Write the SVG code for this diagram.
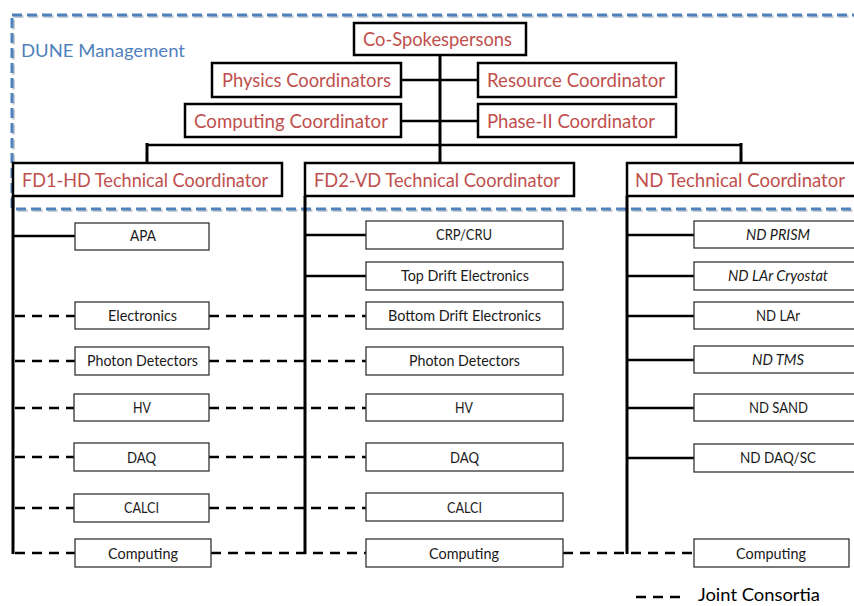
<svg xmlns="http://www.w3.org/2000/svg" width="854" height="606" viewBox="0 0 854 606">
<defs>
<style>
.frame{fill:none;stroke:#4f81bd;stroke-width:3;stroke-dasharray:10 5}
.shadow{fill:none;stroke:#c8cdd4;stroke-width:3;stroke-dasharray:10 5}
.mgmt{font-family:"Lato","Liberation Sans",sans-serif;font-size:18px;fill:#4f81bd}
.cbox{fill:#fff;stroke:#000;stroke-width:2.5}
.ctext{font-family:"Lato","Liberation Sans",sans-serif;font-size:19px;fill:#c0504d}
.sbox{fill:#fff;stroke:#333;stroke-width:1.3}
.stext{font-family:"Lato","Liberation Sans",sans-serif;font-size:14.5px;fill:#1a1a1a}
.it{font-style:italic}
.solid{fill:none;stroke:#000;stroke-width:2.5}
.spine{fill:none;stroke:#000;stroke-width:3}
.dash{fill:none;stroke:#000;stroke-width:2.5;stroke-dasharray:10 7}
.legend{font-family:"Lato","Liberation Sans",sans-serif;font-size:17px;fill:#000}
</style>
</defs>
<rect x="0" y="0" width="854" height="606" fill="#fff"/>
<g id="dune-management">
<rect class="shadow" x="13.5" y="16.5" width="870" height="194"/>
<rect class="frame" x="12" y="15" width="870" height="194"/>
<text class="mgmt" x="21" y="57" textLength="164" lengthAdjust="spacingAndGlyphs">DUNE Management</text>
</g>
<g id="connectors">
<line class="spine" x1="440" y1="55" x2="440" y2="163"/>
<line class="solid" x1="401" y1="80" x2="478" y2="80"/>
<line class="solid" x1="401" y1="121" x2="478" y2="121"/>
<line class="solid" x1="146" y1="145" x2="742" y2="145"/>
<line class="spine" x1="147" y1="143" x2="147" y2="163"/>
<line class="spine" x1="741" y1="143" x2="741" y2="163"/>
<line class="spine" x1="13" y1="196" x2="13" y2="554"/>
<line class="spine" x1="305" y1="196" x2="305" y2="554"/>
<line class="spine" x1="627" y1="196" x2="627" y2="554"/>
<line class="solid" x1="13" y1="236" x2="75" y2="236"/>
<line class="solid" x1="305" y1="235" x2="366" y2="235"/>
<line class="solid" x1="305" y1="276" x2="366" y2="276"/>
<line class="solid" x1="627" y1="235" x2="694" y2="235"/>
<line class="solid" x1="627" y1="276" x2="694" y2="276"/>
<line class="solid" x1="627" y1="316" x2="694" y2="316"/>
<line class="solid" x1="627" y1="360" x2="694" y2="360"/>
<line class="solid" x1="627" y1="408" x2="694" y2="408"/>
<line class="solid" x1="627" y1="458" x2="694" y2="458"/>
<line class="dash" x1="15" y1="316" x2="75" y2="316"/>
<line class="dash" x1="209" y1="316" x2="366" y2="316"/>
<line class="dash" x1="15" y1="361" x2="75" y2="361"/>
<line class="dash" x1="209" y1="361" x2="366" y2="361"/>
<line class="dash" x1="15" y1="408" x2="75" y2="408"/>
<line class="dash" x1="209" y1="408" x2="366" y2="408"/>
<line class="dash" x1="15" y1="457" x2="75" y2="457"/>
<line class="dash" x1="209" y1="457" x2="366" y2="457"/>
<line class="dash" x1="15" y1="508" x2="75" y2="508"/>
<line class="dash" x1="209" y1="508" x2="366" y2="508"/>
<line class="dash" x1="15" y1="553" x2="75" y2="553"/>
<line class="dash" x1="211" y1="553" x2="366" y2="553"/>
<line class="dash" x1="563" y1="553" x2="694" y2="553"/>
</g>
<g id="co-spokespersons"><rect class="cbox" x="354" y="23" width="172" height="32"/><text class="ctext" x="363" y="46" textLength="149" lengthAdjust="spacingAndGlyphs">Co-Spokespersons</text></g>
<g id="physics-coordinators"><rect class="cbox" x="212" y="63" width="189" height="34"/><text class="ctext" x="222" y="87" textLength="169" lengthAdjust="spacingAndGlyphs">Physics Coordinators</text></g>
<g id="resource-coordinator"><rect class="cbox" x="478" y="63" width="198" height="34"/><text class="ctext" x="487" y="87" textLength="178" lengthAdjust="spacingAndGlyphs">Resource Coordinator</text></g>
<g id="computing-coordinator"><rect class="cbox" x="185" y="104" width="216" height="33"/><text class="ctext" x="194" y="128" textLength="194" lengthAdjust="spacingAndGlyphs">Computing Coordinator</text></g>
<g id="phase2-coordinator"><rect class="cbox" x="478" y="104" width="198" height="33"/><text class="ctext" x="487" y="128" textLength="168" lengthAdjust="spacingAndGlyphs">Phase-II Coordinator</text></g>
<g id="fd1-hd-tc"><rect class="cbox" x="13" y="163" width="269" height="33"/><text class="ctext" x="22" y="187" textLength="246" lengthAdjust="spacingAndGlyphs">FD1-HD Technical Coordinator</text></g>
<g id="fd2-vd-tc"><rect class="cbox" x="305" y="163" width="269" height="33"/><text class="ctext" x="314" y="187" textLength="246" lengthAdjust="spacingAndGlyphs">FD2-VD Technical Coordinator</text></g>
<g id="nd-tc"><rect class="cbox" x="627" y="163" width="250" height="33"/><text class="ctext" x="635" y="187" textLength="210" lengthAdjust="spacingAndGlyphs">ND Technical Coordinator</text></g>
<g id="fd1-apa"><rect class="sbox" x="75" y="223" width="134" height="27"/><text class="stext" x="130" y="241" textLength="26" lengthAdjust="spacingAndGlyphs">APA</text></g>
<g id="fd1-electronics"><rect class="sbox" x="75" y="302" width="134" height="27"/><text class="stext" x="108" y="321" textLength="69" lengthAdjust="spacingAndGlyphs">Electronics</text></g>
<g id="fd1-photon"><rect class="sbox" x="75" y="347" width="134" height="28"/><text class="stext" x="87" y="366" textLength="111" lengthAdjust="spacingAndGlyphs">Photon Detectors</text></g>
<g id="fd1-hv"><rect class="sbox" x="74" y="394" width="135" height="27"/><text class="stext" x="133" y="413" textLength="18" lengthAdjust="spacingAndGlyphs">HV</text></g>
<g id="fd1-daq"><rect class="sbox" x="74" y="443" width="135" height="28"/><text class="stext" x="127" y="463" textLength="29" lengthAdjust="spacingAndGlyphs">DAQ</text></g>
<g id="fd1-calci"><rect class="sbox" x="74" y="494" width="135" height="28"/><text class="stext" x="124" y="513" textLength="35" lengthAdjust="spacingAndGlyphs">CALCI</text></g>
<g id="fd1-computing"><rect class="sbox" x="75" y="539" width="136" height="28"/><text class="stext" x="108" y="559" textLength="70" lengthAdjust="spacingAndGlyphs">Computing</text></g>
<g id="fd2-crp"><rect class="sbox" x="366" y="221" width="197" height="28"/><text class="stext" x="436" y="240" textLength="56" lengthAdjust="spacingAndGlyphs">CRP/CRU</text></g>
<g id="fd2-top"><rect class="sbox" x="366" y="262" width="197" height="28"/><text class="stext" x="401" y="281" textLength="128" lengthAdjust="spacingAndGlyphs">Top Drift Electronics</text></g>
<g id="fd2-bottom"><rect class="sbox" x="366" y="302" width="197" height="27"/><text class="stext" x="388" y="321" textLength="153" lengthAdjust="spacingAndGlyphs">Bottom Drift Electronics</text></g>
<g id="fd2-photon"><rect class="sbox" x="366" y="347" width="197" height="28"/><text class="stext" x="409" y="366" textLength="111" lengthAdjust="spacingAndGlyphs">Photon Detectors</text></g>
<g id="fd2-hv"><rect class="sbox" x="366" y="394" width="197" height="27"/><text class="stext" x="455" y="413" textLength="18" lengthAdjust="spacingAndGlyphs">HV</text></g>
<g id="fd2-daq"><rect class="sbox" x="366" y="443" width="197" height="28"/><text class="stext" x="450" y="463" textLength="29" lengthAdjust="spacingAndGlyphs">DAQ</text></g>
<g id="fd2-calci"><rect class="sbox" x="366" y="493" width="197" height="28"/><text class="stext" x="447" y="513" textLength="35" lengthAdjust="spacingAndGlyphs">CALCI</text></g>
<g id="fd2-computing"><rect class="sbox" x="366" y="539" width="197" height="28"/><text class="stext" x="429" y="559" textLength="70" lengthAdjust="spacingAndGlyphs">Computing</text></g>
<g id="nd-prism"><rect class="sbox" x="694" y="221" width="170" height="27"/><text class="stext it" x="746" y="240" textLength="64" lengthAdjust="spacingAndGlyphs">ND PRISM</text></g>
<g id="nd-lar-cryostat"><rect class="sbox" x="694" y="262" width="170" height="28"/><text class="stext it" x="728" y="281" textLength="100" lengthAdjust="spacingAndGlyphs">ND LAr Cryostat</text></g>
<g id="nd-lar"><rect class="sbox" x="694" y="302" width="170" height="27"/><text class="stext" x="756" y="321" textLength="44" lengthAdjust="spacingAndGlyphs">ND LAr</text></g>
<g id="nd-tms"><rect class="sbox" x="694" y="346" width="170" height="27"/><text class="stext it" x="752" y="365" textLength="52" lengthAdjust="spacingAndGlyphs">ND TMS</text></g>
<g id="nd-sand"><rect class="sbox" x="694" y="394" width="170" height="27"/><text class="stext" x="749" y="413" textLength="59" lengthAdjust="spacingAndGlyphs">ND SAND</text></g>
<g id="nd-daq-sc"><rect class="sbox" x="694" y="444" width="170" height="28"/><text class="stext" x="740" y="463" textLength="76" lengthAdjust="spacingAndGlyphs">ND DAQ/SC</text></g>
<g id="nd-computing"><rect class="sbox" x="694" y="539" width="155" height="28"/><text class="stext" x="736" y="559" textLength="70" lengthAdjust="spacingAndGlyphs">Computing</text></g>
<g id="legend">
<line class="dash" x1="636" y1="597" x2="684" y2="597"/>
<text class="legend" x="698" y="601" textLength="122" lengthAdjust="spacingAndGlyphs">Joint Consortia</text>
</g>
</svg>
